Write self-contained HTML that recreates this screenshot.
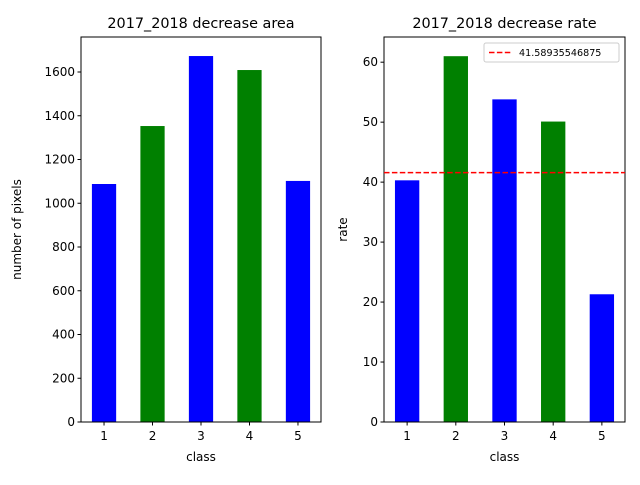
<!DOCTYPE html>
<html><head><meta charset="utf-8"><style>
body{margin:0;background:#fff;font-family:"Liberation Sans","DejaVu Sans",sans-serif;}
svg text{font-family:"DejaVu Sans","Liberation Sans",sans-serif;}
</style></head><body>
<svg id="c" width="640" height="480"></svg>
<script>
const categories=[1,2,3,4,5];
const areaValues=[1088,1353,1673,1609,1102];
const rateValues=[40.3,61.0,53.8,50.1,21.3];
const barColors=['blue','green','blue','green','blue'];
const areaTicks=[0,200,400,600,800,1000,1200,1400,1600];
const rateTicks=[0,10,20,30,40,50,60];
const meanRate=41.58935546875;
const meanLabel='41.58935546875';
const NS='http://www.w3.org/2000/svg';
const svg=document.getElementById('c');
function mk(t,a,p){const e=document.createElementNS(NS,t);for(const k in a)e.setAttribute(k,a[k]);(p||svg).appendChild(e);return e;}
function panel(name,x0,x1,y0,y1,ymax,vals,ticks,title,ylabel){
 const g=mk('g',{});
 
 
 const xs=v=>x0+(v-0.525)/(4.95)*(x1-x0);
 const ys=v=>y1-v/ymax*(y1-y0);
 vals.forEach((v,i)=>{
  const r=mk('rect',{x:xs(categories[i]-0.25),y:ys(v),width:xs(categories[i]+0.25)-xs(categories[i]-0.25),height:y1-ys(v),fill:barColors[i]},g);
  
  
 });
 mk('rect',{x:x0,y:y0,width:x1-x0,height:y1-y0,fill:'none',stroke:'#000','stroke-width':1},g);
 categories.forEach(c=>{
  const x=xs(c);mk('line',{x1:x,x2:x,y1:y1,y2:y1+3.5,stroke:'#000'},g);
  const t=mk('text',{x:x,y:y1+18,'text-anchor':'middle','font-size':12},g);t.textContent=c;
  
  
 });
 ticks.forEach(v=>{
  const y=ys(v);mk('line',{x1:x0-3.5,x2:x0,y1:y,y2:y,stroke:'#000'},g);
  const t=mk('text',{x:x0-6,y:y+4,'text-anchor':'end','font-size':12},g);t.textContent=v;
  
  
 });
 const tt=mk('text',{x:(x0+x1)/2,y:y0-9,'text-anchor':'middle','font-size':14.4},g);tt.textContent=title;
 
 
 const xl=mk('text',{x:(x0+x1)/2,y:y1+39,'text-anchor':'middle','font-size':12},g);xl.textContent='class';
 
 
 const lx=name==='area-panel'?21:347;
 const yl=mk('text',{x:lx,y:(y0+y1)/2,'text-anchor':'middle','font-size':12,transform:`rotate(-90 ${lx} ${(y0+y1)/2})`},g);yl.textContent=ylabel;
 
 
 return {xs,ys,g};
}
panel('area-panel',81,321,37,422,1760,areaValues,areaTicks,'2017_2018 decrease area','number of pixels');
const p=panel('rate-panel',384,625,37,422,64.2,rateValues,rateTicks,'2017_2018 decrease rate','rate');
const ml=mk('line',{x1:384,x2:625,y1:p.ys(meanRate),y2:p.ys(meanRate),stroke:'red','stroke-width':1.5,'stroke-dasharray':'5.5,2.4'});


const lg=mk('g',{});


mk('rect',{x:484,y:43,width:135,height:19,fill:'#fff',stroke:'#ccc',rx:2},lg);
mk('line',{x1:489,x2:511,y1:52.5,y2:52.5,stroke:'red','stroke-width':1.5,'stroke-dasharray':'5.5,2.4'},lg);
const lt=mk('text',{x:519,y:56,'font-size':9.6},lg);lt.textContent=meanLabel;


</script>
</body></html>
